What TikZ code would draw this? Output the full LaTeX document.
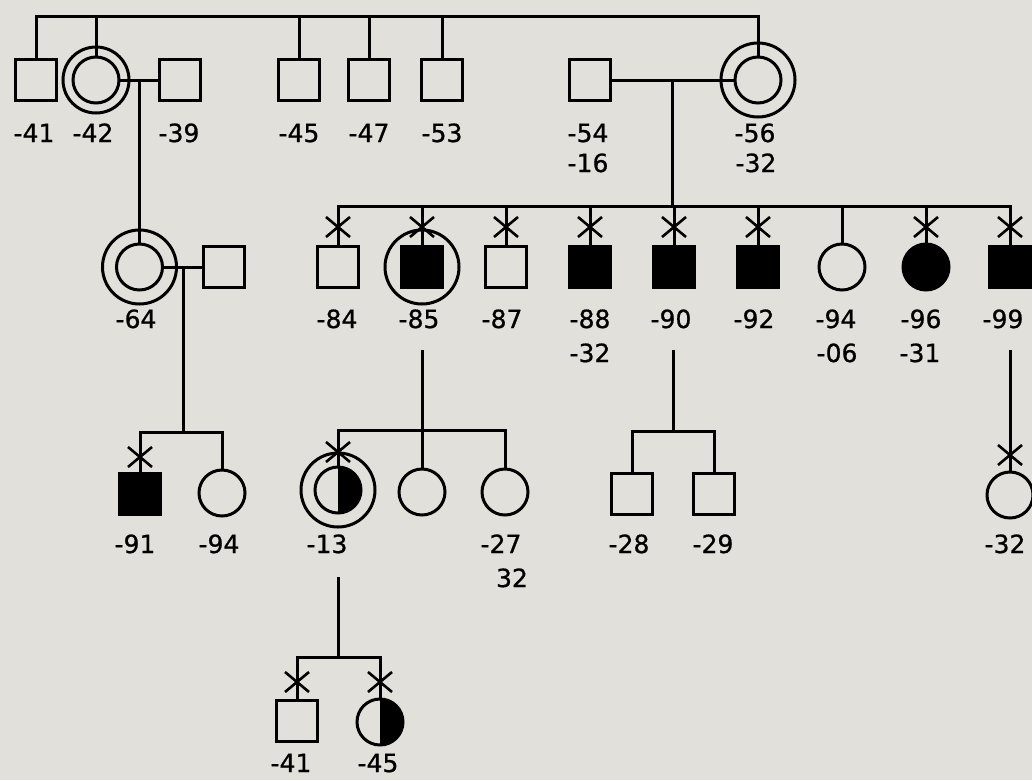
\documentclass[tikz,border=0pt]{standalone}
\usepackage{fontspec}
\newfontfamily\labfont[FakeBold=0.8]{DejaVu Sans}
\usetikzlibrary{calc}
\definecolor{paper}{RGB}{225,224,218}
\begin{document}
\begin{tikzpicture}[x=1pt,y=-1pt,
  every node/.style={inner sep=0pt, outer sep=0pt},
  ln/.style={line width=3pt},
  male/.style={draw, line width=3pt, rectangle, minimum size=41pt},
  fem/.style={draw, line width=3pt, circle, minimum size=46pt},
  aff/.style={fill=black},
  halfaff/.style={path picture={\fill[black] (path picture bounding box.north) rectangle (path picture bounding box.south east);}},
  ring/.style={draw, line width=3pt, circle, minimum size=#1},
  ring/.default=74pt,
  lbl/.style={anchor=base, font=\labfont\fontsize{25}{30}\selectfont},
  xmk/.pic={\draw[line width=2.6pt] (-12,-10) -- (12,10) (-12,10) -- (12,-10);}
]
\useasboundingbox (0,0) rectangle (1032,780);
\fill[paper] (0,0) rectangle (1032,780);
\clip (0,0) rectangle (1032,780);

% ---------- generation I ----------
\node[male] (p41) at (36,80) {};
\node[fem] (p42) at (96,80) {};
\node[ring=66pt] (r42) at (96,80) {};
\node[male] (p39) at (180,80) {};
\node[male] (p45) at (299,80) {};
\node[male] (p47) at (369,80) {};
\node[male] (p53) at (442,80) {};
\node[male] (p54) at (590,80) {};
\node[fem] (p56) at (758,80) {};
\node[ring] (r56) at (758,80) {};

\coordinate (tl) at (36,16);
\coordinate (tr) at (758,16);
\draw[ln] (p41.north) -- (tl) -- (tr) -- (p56.north);
\foreach \n in {p42,p45,p47,p53} \draw[ln] (\n.north) -- (\n.north |- tl);

\draw[ln] (p42.east) -- (p39.west);
\coordinate (m1) at ($(p42.east)!0.5!(p39.west)$);
\draw[ln] (p54.east) -- (p56.west);
\coordinate (m3) at ($(p54.east)!0.5!(p56.west)$);

% ---------- generation II ----------
\node[fem] (p64) at (139.5,267) {};
\node[ring] (r64) at (139.5,267) {};
\node[male] (h64) at (224,267) {};
\draw[ln] (m1) -- (m1 |- p64.north);
\draw[ln] (p64.east) -- (h64.west);
\coordinate (m2) at ($(p64.east)!0.5!(h64.west)$);

\node[male] (p84) at (338,267) {};
\node[male,aff] (p85) at (422,267) {};
\node[ring] (r85) at (422,267) {};
\node[male] (p87) at (506,267) {};
\node[male,aff] (p88) at (590,267) {};
\node[male,aff] (p90) at (674,267) {};
\node[male,aff] (p92) at (758,267) {};
\node[fem] (p94) at (842,267) {};
\node[fem,aff] (p96) at (926,267) {};
\node[male,aff] (p99) at (1010,267) {};

\coordinate (sA) at (338,206);
\coordinate (sB) at (1010,206);
\draw[ln] (p84.north) -- (sA) -- (sB) -- (p99.north);
\foreach \n in {p85,p87,p88,p90,p92,p94,p96} \draw[ln] (\n.north) -- (\n.north |- sA);
\draw[ln] (m3) -- (m3 |- sA);
\foreach \x in {338,422,506,590,674,758,926,1010} \pic at (\x,227) {xmk};

% ---------- generation III ----------
\coordinate (k91) at (140,432);
\coordinate (k94) at (222,432);
\node[male,aff] (p91) at (140,494) {};
\node[fem] (p94b) at (222,493) {};
\draw[ln] (p91.north) -- (k91) -- (k94) -- (p94b.north);
\draw[ln] (m2) -- (m2 |- k91);
\pic at (140,457) {xmk};

\coordinate (d85) at (422,350);
\coordinate (k13) at (338,430);
\coordinate (k27) at (505,430);
\node[fem,halfaff] (p13) at (338,490) {};
\node[ring] (r13) at (338,490) {};
\node[fem] (p13b) at (422,492) {};
\node[fem] (p27) at (505,492) {};
\draw[ln] (p13.north) -- (k13) -- (k27) -- (p27.north);
\draw[ln] (d85) -- (p13b.north);
\pic at (338,452) {xmk};

\coordinate (d90) at (673,350);
\coordinate (k28) at (632,431);
\coordinate (k29) at (714,431);
\node[male] (p28) at (632,494) {};
\node[male] (p29) at (714,494) {};
\draw[ln] (p28.north) -- (k28) -- (k29) -- (p29.north);
\draw[ln] (d90) -- (d90 |- k28);

\coordinate (d99) at (1010,350);
\node[fem] (p32) at (1010,495) {};
\draw[ln] (d99) -- (p32.north);
\pic at (1010,455) {xmk};

% ---------- generation IV ----------
\coordinate (d13) at (338,577);
\coordinate (k41) at (297,657);
\coordinate (k45) at (380,657);
\node[male] (p41b) at (297,721) {};
\node[fem,halfaff] (p45b) at (380,722) {};
\draw[ln] (p41b.north) -- (k41) -- (k45) -- (p45b.north);
\draw[ln] (d13) -- (d13 |- k41);
\pic at (297,682) {xmk};
\pic at (380,682) {xmk};

% ---------- labels ----------
\node[lbl] (l41) at (34,142) {-41};
\node[lbl] (l42) at (93,142) {-42};
\node[lbl] (l39) at (179,142) {-39};
\node[lbl] (l45) at (299,142) {-45};
\node[lbl] (l47) at (369,142) {-47};
\node[lbl] (l53) at (442,142) {-53};
\node[lbl] (l54) at (588,142) {-54};
\node[lbl] (l16) at (588,172) {-16};
\node[lbl] (l56) at (755,142) {-56};
\node[lbl] (l56b) at (756,172) {-32};

\node[lbl] (l64) at (136,328) {-64};
\node[lbl] (l84) at (337,328) {-84};
\node[lbl] (l85) at (419,328) {-85};
\node[lbl] (l87) at (502,328) {-87};
\node[lbl] (l88) at (590,328) {-88};
\node[lbl] (l88b) at (590,362) {-32};
\node[lbl] (l90) at (671,328) {-90};
\node[lbl] (l92) at (754,328) {-92};
\node[lbl] (l94) at (836,328) {-94};
\node[lbl] (l94b) at (837,362) {-06};
\node[lbl] (l96) at (921,328) {-96};
\node[lbl] (l96b) at (920,362) {-31};
\node[lbl] (l99) at (1003,328) {-99};

\node[lbl] (l91) at (135,553) {-91};
\node[lbl] (l94c) at (219,553) {-94};
\node[lbl] (l13) at (327,553) {-13};
\node[lbl] (l27) at (501,553) {-27};
\node[lbl] (l27b) at (512,587) {32};
\node[lbl] (l28) at (629,553) {-28};
\node[lbl] (l29) at (713,553) {-29};
\node[lbl] (l32) at (1005,553) {-32};

\node[lbl] (l41b) at (291,772) {-41};
\node[lbl] (l45b) at (378,772) {-45};
\end{tikzpicture}
\end{document}
